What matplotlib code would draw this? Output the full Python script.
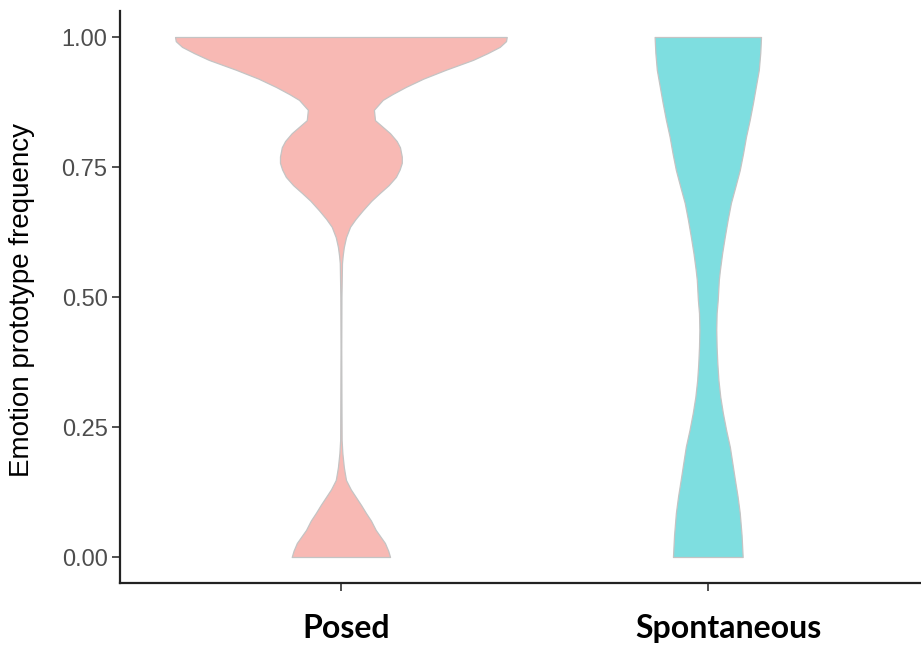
import matplotlib
matplotlib.use("Agg")
import matplotlib.pyplot as plt
from matplotlib.transforms import ScaledTranslation

# categories and colours
groups = ["Posed", "Spontaneous"]
fills = ["#F8B9B4", "#7EDEE0"]

# violin outlines: value level and half-width (in category units)
posed_y = [1.000, 0.992, 0.981, 0.969, 0.956, 0.937, 0.920, 0.904, 0.890, 0.879, 0.860,
           0.840, 0.815, 0.800, 0.788, 0.770, 0.758, 0.745, 0.731, 0.715, 0.700, 0.685,
           0.667, 0.650, 0.635, 0.615, 0.596, 0.580, 0.565, 0.500, 0.400, 0.300, 0.225,
           0.200, 0.173, 0.160, 0.148, 0.130, 0.115, 0.100, 0.085, 0.070, 0.052, 0.040,
           0.027, 0.012, 0.000]
posed_w = [0.452, 0.450, 0.433, 0.400, 0.360, 0.286, 0.225, 0.177, 0.140, 0.114, 0.090,
           0.093, 0.134, 0.152, 0.161, 0.166, 0.166, 0.160, 0.150, 0.130, 0.106, 0.083,
           0.060, 0.040, 0.025, 0.014, 0.008, 0.005, 0.003, 0.0015, 0.001, 0.0015, 0.002,
           0.004, 0.008, 0.011, 0.014, 0.027, 0.041, 0.055, 0.068, 0.082, 0.095, 0.107,
           0.120, 0.129, 0.134]

spont_y = [1.000, 0.970, 0.937, 0.905, 0.873, 0.840, 0.808, 0.776, 0.744, 0.712, 0.681,
           0.648, 0.615, 0.584, 0.552, 0.533, 0.494, 0.469, 0.437, 0.404, 0.372, 0.340,
           0.308, 0.277, 0.244, 0.212, 0.180, 0.148, 0.117, 0.085, 0.042, 0.000]
spont_w = [0.145, 0.143, 0.139, 0.131, 0.123, 0.114, 0.104, 0.096, 0.087, 0.075, 0.063,
           0.054, 0.046, 0.039, 0.033, 0.030, 0.027, 0.024, 0.023, 0.024, 0.026, 0.029,
           0.034, 0.041, 0.050, 0.060, 0.067, 0.074, 0.081, 0.087, 0.092, 0.095]

yticks = [0.00, 0.25, 0.50, 0.75, 1.00]

fig = plt.figure(figsize=(9.21, 6.5), dpi=100)
ax = fig.add_axes([120 / 921, 67 / 650, 801 / 921, 572 / 650])

profiles = [(posed_y, posed_w), (spont_y, spont_w)]
for i, (ys, ws) in enumerate(profiles):
    xc = i + 1
    left = [xc - w for w in ws]
    right = [xc + w for w in ws]
    ax.fill_betweenx(ys, left, right, facecolor=fills[i], edgecolor="#C4C4C4",
                     linewidth=0.9, zorder=2)

ax.set_xlim(0.398, 2.581)
ax.set_ylim(-0.05, 1.05)

ax.set_yticks(yticks)
ax.set_yticklabels(["%.2f" % v for v in yticks], fontfamily="Liberation Sans",
                   fontsize=17, color="#4D4D4D")
ax.set_xticks([1, 2])
ax.set_xticklabels(groups, fontfamily="Lato", fontweight="bold", fontsize=23, color="black")
ax.tick_params(axis="y", length=6, width=1.2, color="#333333", pad=3)
ax.tick_params(axis="x", length=6, width=1.2, color="#333333", pad=16)

# the category labels sit a little to the right of their ticks in the original
for lab, dx in zip(ax.get_xticklabels(), [5, 21]):
    lab.set_transform(lab.get_transform() + ScaledTranslation(dx / 100, 0, fig.dpi_scale_trans))

fig.text(22 / 921, 1 - 300 / 650, "Emotion prototype frequency", rotation=90,
         ha="center", va="center", fontfamily="Liberation Sans", fontsize=20)

for s in ["top", "right"]:
    ax.spines[s].set_visible(False)
for s in ["left", "bottom"]:
    ax.spines[s].set_linewidth(1.6)
    ax.spines[s].set_color("#222222")

fig.savefig("out.png", dpi=100)
